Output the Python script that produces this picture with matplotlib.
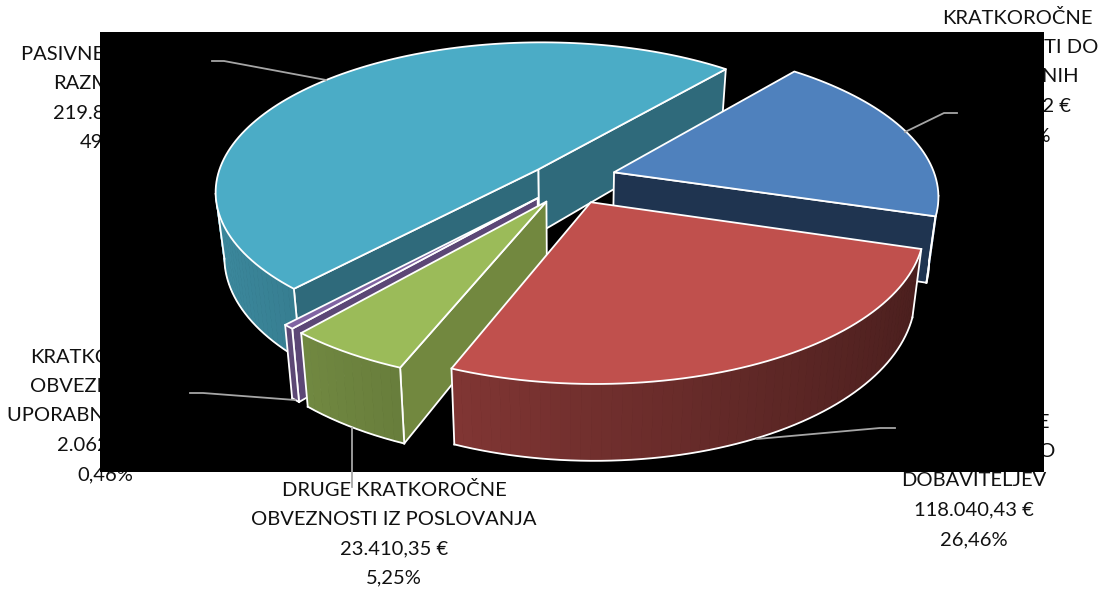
import matplotlib
matplotlib.use('Agg')
import matplotlib.pyplot as plt
from matplotlib.patches import Polygon, Rectangle
import numpy as np

# slices, clockwise from the first slice angle
categories = [['KRATKOROČNE', 'OBVEZNOSTI DO', 'ZAPOSLENIH'],
              ['KRATKOROČNE', 'OBVEZNOSTI DO', 'DOBAVITELJEV'],
              ['DRUGE KRATKOROČNE', 'OBVEZNOSTI IZ POSLOVANJA'],
              ['KRATKOROČNE', 'OBVEZNOSTI IZ', 'UPORABNIH PRAVIC'],
              ['PASIVNE ČASOVNE', 'RAZMEJITVE']]
values = [82798.12, 118040.43, 23410.35, 2062.40, 219812.60]

colors = ['#4f81bd', '#c0504d', '#9bbb59', '#8064a2', '#4bacc6']
side_colors = ['#1f3450', '#4f2120', '#72883f', '#5c4776', '#2f6a7b']
explode = [0.16, 0.17, 0.175, 0.17, 0.10]
nudge_x = [0, 0.005, 0.035, 0.03, -0.008]
draw_order = [4, 0, 3, 2, 1]

# label centre x, first line y
label_pos = [(1017, 18), (974, 422), (394, 490), (105, 357), (113, 54)]
# leader lines, pixels
leaders = [([957, 944, 905], [113, 113, 132]),
           ([895, 880, 757], [428, 428, 439]),
           ([352, 352], [428, 487]),
           ([190, 203, 295], [393, 393, 400]),
           ([212, 224, 326], [61, 61, 80])]

first_angle = 40
CX, CY = 565, 179
A, B, K = 322, 148, 0.145
H = 64


def project(x, y, bottom=False):
    s = 1 / (1 - K * y)
    if bottom:
        return CX + A * x * s * 0.975, CY + B * y * s + H * s
    return CX + A * x * s, CY + B * y * s


def money(v):
    return f'{v:,.2f}'.replace(',', ' ').replace('.', ',').replace(' ', '.') + ' €'


fig = plt.figure(figsize=(11.03, 5.91), dpi=100)
plt.rcParams['font.family'] = ['Lato', 'DejaVu Sans']
ax = fig.add_axes([0, 0, 1, 1])
ax.set_xlim(0, 1103)
ax.set_ylim(591, 0)
ax.axis('off')

total = sum(values)
sweeps = [v / total * 360 for v in values]
starts = first_angle + np.cumsum([0] + sweeps[:-1])

# labels go under the black plot area
for i, lines in enumerate(categories):
    lx, ly = label_pos[i]
    pct = f'{values[i] / total * 100:.2f}%'.replace('.', ',')
    for j, line in enumerate(lines + [money(values[i]), pct]):
        ax.text(lx, ly + j * 29.4, line, ha='center', va='center', fontsize=14.5, color='#111111', zorder=0)

ax.add_patch(Rectangle((100, 32), 944, 440, facecolor='black', edgecolor='none', zorder=1))

z = 2
for i in draw_order:
    t0, t1 = starts[i], starts[i] + sweeps[i]
    mid = np.radians((t0 + t1) / 2)
    ox, oy = explode[i] * np.sin(mid) + nudge_x[i], -explode[i] * np.cos(mid)
    th = np.radians(np.linspace(t0, t1, max(int(sweeps[i] / 1.5), 4)))
    xs = ox + np.sin(th)
    ys = oy - np.cos(th)

    tx, ty = project(xs, ys)
    bx, by = project(xs, ys, bottom=True)
    ax_top, ay_top = project(ox, oy)
    ax_bot, ay_bot = project(ox, oy, bottom=True)

    # straight walls
    for (x0, y0, x1, y1, x2, y2, x3, y3) in [
            (ax_top, ay_top, tx[0], ty[0], bx[0], by[0], ax_bot, ay_bot),
            (tx[-1], ty[-1], ax_top, ay_top, ax_bot, ay_bot, bx[-1], by[-1])]:
        if x1 < x0:
            ax.add_patch(Polygon([(x0, y0), (x1, y1), (x2, y2), (x3, y3)], closed=True, facecolor=side_colors[i],
                                 edgecolor='white', linewidth=1.3, joinstyle='round', zorder=z))
            z += 1

    # rim with shading that changes round the pie
    front = np.where(np.diff(tx) < 0)[0]
    base = np.array(matplotlib.colors.to_rgb(colors[i]))
    for k in front:
        nx = np.sin((th[k] + th[k + 1]) / 2)
        shade = 0.59 - 0.21 * nx
        c = base * shade
        ax.add_patch(Polygon([(tx[k], ty[k]), (tx[k + 1], ty[k + 1]), (bx[k + 1], by[k + 1]), (bx[k], by[k])],
                             closed=True, facecolor=c, edgecolor=c, linewidth=0.6, zorder=z))
    z += 1
    if len(front):
        k0, k1 = front[0], front[-1] + 1
        ax.plot(bx[k0:k1 + 1], by[k0:k1 + 1], color='white', lw=1.3, zorder=z)
        ax.plot([tx[k0], bx[k0]], [ty[k0], by[k0]], color='white', lw=1.3, zorder=z)
        ax.plot([tx[k1], bx[k1]], [ty[k1], by[k1]], color='white', lw=1.3, zorder=z)
        z += 1

    top = [(ax_top, ay_top)] + list(zip(tx, ty))
    ax.add_patch(Polygon(top, closed=True, facecolor=colors[i], edgecolor='white', linewidth=1.3,
                         joinstyle='round', zorder=z))
    z += 1

for lx, ly in leaders:
    ax.plot(lx, ly, color='#a6a6a6', lw=1.3, zorder=z)

fig.savefig('out.png', dpi=100)
